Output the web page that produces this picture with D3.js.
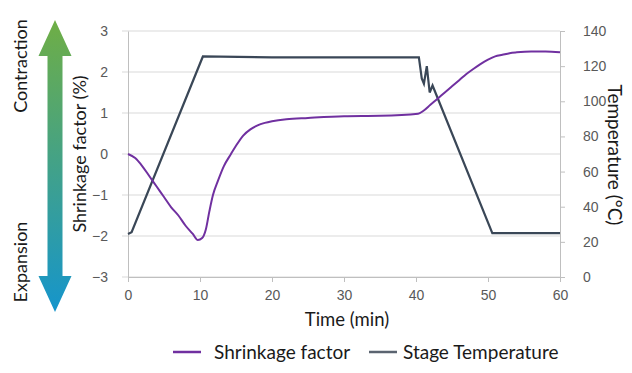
<!DOCTYPE html>
<html>
<head>
<meta charset="utf-8">
<script src="https://cdn.jsdelivr.net/npm/d3@7"></script>
<style>
  body { margin: 0; background: #fff; }
  svg { display: block; font-family: Lato, "Open Sans", sans-serif; }
  .axis path { stroke: #bfbfbf; }
  .axis line { stroke: #bfbfbf; }
  .axis text { fill: #595959; font-size: 14px; }
</style>
</head>
<body>
<div id="chart"></div>
<script>
// shrinkage factor (%) vs time (min)
const shrinkTime = [0, 1, 2, 3, 4, 5, 6, 7, 8, 9, 9.7, 10.3, 10.8, 11.3, 11.8, 12.5, 13.3, 14.3, 15, 16, 17, 18, 19, 20, 22, 25, 30, 35, 40.3, 41, 42, 43, 44, 45, 46, 47, 48, 49, 50, 51, 52, 53, 54, 56, 58, 60];
const shrinkValue = [0, -0.1, -0.3, -0.55, -0.8, -1.05, -1.3, -1.5, -1.75, -1.95, -2.1, -2.05, -1.85, -1.4, -1.0, -0.65, -0.3, 0, 0.2, 0.45, 0.6, 0.7, 0.76, 0.8, 0.85, 0.88, 0.92, 0.93, 0.98, 1.05, 1.2, 1.35, 1.5, 1.65, 1.8, 1.95, 2.08, 2.2, 2.3, 2.38, 2.42, 2.46, 2.48, 2.5, 2.5, 2.48];

// stage temperature (°C) vs time (min)
const tempTime = [0, 0.5, 10.4, 20, 30, 40.4, 40.8, 41.1, 41.5, 41.9, 42.3, 50.6, 55, 60];
const tempValue = [24.5, 25.5, 125.5, 125, 125, 125, 113, 110, 120, 105, 109, 25, 25, 25];

const xTicks = [0, 10, 20, 30, 40, 50, 60];
const leftTicks = [-3, -2, -1, 0, 1, 2, 3];
const rightTicks = [0, 20, 40, 60, 80, 100, 120, 140];

const W = 632, H = 373;
const svg = d3.select("#chart").append("svg")
    .attr("width", W)
    .attr("height", H);

const x = d3.scaleLinear().domain([0, 60]).range([128, 560]);
const yL = d3.scaleLinear().domain([-3, 3]).range([277, 31]);
const yR = d3.scaleLinear().domain([0, 140]).range([277, 31]);

// gridlines
svg.append("g")
    .selectAll("line")
    .data(leftTicks)
    .enter()
    .append("line")
    .attr("x1", x(0) - 6)
    .attr("x2", x(60))
    .attr("y1", d => yL(d))
    .attr("y2", d => yL(d))
    .attr("stroke", "#d9d9d9")
    .attr("stroke-width", 1);

// left axis
svg.append("g")
    .attr("class", "axis")
    .attr("transform", `translate(${x(0)},0)`)
    .call(d3.axisLeft(yL).tickValues(leftTicks).tickSize(0).tickPadding(20).tickFormat(d3.format("d")))
    .call(g => g.select(".domain").attr("stroke", "#bfbfbf"));

// right axis
svg.append("g")
    .attr("class", "axis")
    .attr("transform", `translate(${x(60)},0)`)
    .call(d3.axisRight(yR).tickValues(rightTicks).tickSize(5).tickSizeOuter(0).tickPadding(18));

// bottom axis
svg.append("g")
    .attr("class", "axis")
    .attr("transform", `translate(0,${yL(-3)})`)
    .call(d3.axisBottom(x).tickValues(xTicks).tickSize(5).tickSizeOuter(0).tickPadding(8));

// series
const shrinkData = shrinkTime.map((t, i) => ({ t, v: shrinkValue[i] }));
const tempData = tempTime.map((t, i) => ({ t, v: tempValue[i] }));

svg.append("path")
    .datum(tempData)
    .attr("fill", "none")
    .attr("stroke", "#3a4757")
    .attr("stroke-width", 2.2)
    .attr("d", d3.line().x(d => x(d.t)).y(d => yR(d.v)));

svg.append("path")
    .datum(shrinkData)
    .attr("fill", "none")
    .attr("stroke", "#7030a0")
    .attr("stroke-width", 2)
    .attr("d", d3.line().x(d => x(d.t)).y(d => yL(d.v)).curve(d3.curveMonotoneX));

// axis titles
svg.append("text")
    .attr("transform", "translate(86,154)rotate(-90)")
    .attr("text-anchor", "middle")
    .attr("font-size", 18)
    .attr("fill", "#1a1a1a")
    .text("Shrinkage factor (%)");

svg.append("text")
    .attr("transform", "translate(608,155)rotate(90)")
    .attr("text-anchor", "middle")
    .attr("font-size", 19)
    .attr("fill", "#1a1a1a")
    .text("Temperature (°C)");

svg.append("text")
    .attr("x", 347)
    .attr("y", 326)
    .attr("text-anchor", "middle")
    .attr("font-size", 18.5)
    .attr("fill", "#1a1a1a")
    .text("Time (min)");

// contraction / expansion arrow
const grad = svg.append("defs").append("linearGradient")
    .attr("id", "arrowGrad")
    .attr("x1", 0).attr("y1", 0).attr("x2", 0).attr("y2", 1);
grad.append("stop").attr("offset", "0%").attr("stop-color", "#6fae45");
grad.append("stop").attr("offset", "100%").attr("stop-color", "#1595cc");

const cx = 55, arrowTop = 20, arrowBot = 312, headL = 36, headW = 16.5, shaftW = 7.5;
svg.append("path")
    .attr("fill", "url(#arrowGrad)")
    .attr("d", `M${cx},${arrowTop} L${cx + headW},${arrowTop + headL} L${cx + shaftW},${arrowTop + headL}
        L${cx + shaftW},${arrowBot - headL} L${cx + headW},${arrowBot - headL} L${cx},${arrowBot}
        L${cx - headW},${arrowBot - headL} L${cx - shaftW},${arrowBot - headL} L${cx - shaftW},${arrowTop + headL}
        L${cx - headW},${arrowTop + headL} Z`);

svg.append("text")
    .attr("transform", "translate(27,66)rotate(-90)")
    .attr("text-anchor", "middle")
    .attr("font-size", 18)
    .attr("fill", "#1a1a1a")
    .text("Contraction");

svg.append("text")
    .attr("transform", "translate(27,262)rotate(-90)")
    .attr("text-anchor", "middle")
    .attr("font-size", 18)
    .attr("fill", "#1a1a1a")
    .text("Expansion");

// legend
const legend = [
    { name: "Shrinkage factor", color: "#7030a0", x: 173, tx: 41 },
    { name: "Stage Temperature", color: "#5b6470", x: 369, tx: 34 }
];
const lg = svg.append("g").selectAll("g")
    .data(legend)
    .enter()
    .append("g")
    .attr("transform", d => `translate(${d.x},352)`);
lg.append("line")
    .attr("x1", 0).attr("x2", 28)
    .attr("stroke", d => d.color)
    .attr("stroke-width", 2.5);
lg.append("text")
    .attr("x", d => d.tx)
    .attr("dy", "0.35em")
    .attr("font-size", 19)
    .attr("fill", "#1a1a1a")
    .text(d => d.name);
</script>
</body>
</html>
